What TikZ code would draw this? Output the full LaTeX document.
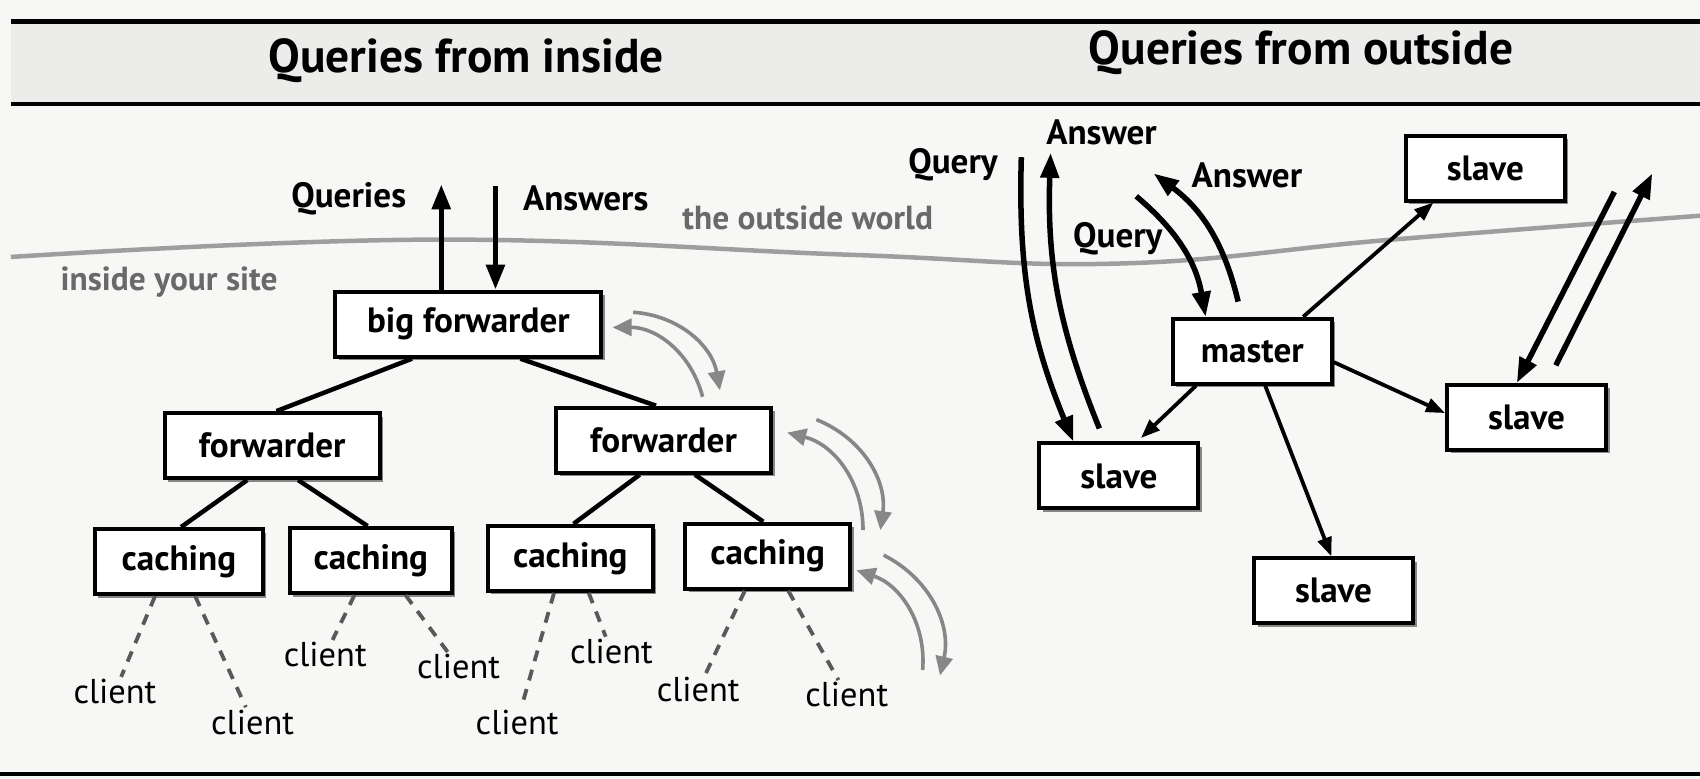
\documentclass[tikz,border=0pt]{standalone}
\usepackage{fontspec}
\setmainfont{PT Sans}
\usetikzlibrary{arrows.meta,calc,shadows}

\definecolor{paper}{RGB}{247,247,245}
\definecolor{band}{RGB}{236,236,234}
\definecolor{horizon}{RGB}{158,158,158}
\definecolor{arcgray}{RGB}{135,135,135}
\definecolor{labelgray}{RGB}{105,105,105}

\tikzset{
  box/.style={draw, line width=0.4mm, fill=white, minimum height=6.5mm,
    inner sep=0pt, font=\fontsize{10}{12}\selectfont\bfseries,
    drop shadow={shadow xshift=0.35mm, shadow yshift=-0.35mm,
      fill=black, opacity=0.45}},
  treeline/.style={line width=0.45mm},
  clientline/.style={line width=0.38mm, black!65,
    dash pattern=on 1.1mm off 0.9mm},
  client/.style={inner sep=0.5pt, font=\fontsize{9.8}{11}\selectfont},
  flowarrow/.style={line width=0.55mm, -{Triangle[length=2.5mm, width=1.8mm]}},
  pusharrow/.style={line width=0.38mm, -{Triangle[length=1.9mm, width=1.4mm]}},
  hoparrow/.style={line width=0.36mm, arcgray,
    -{Triangle[length=1.9mm, width=1.7mm]}},
  lbl/.style={font=\fontsize{10}{12}\selectfont\bfseries},
  sidelbl/.style={font=\fontsize{9.5}{11}\selectfont\bfseries, labelgray},
  title/.style={font=\fontsize{13.5}{16}\selectfont\bfseries}
}

\begin{document}
\begin{tikzpicture}[x=0.10842mm, y=-0.10842mm]

\fill[paper] (0,0) rectangle (1568,717.6);
\useasboundingbox (0,0) rectangle (1568,717.6);

% header band
\fill[band] (10,20) rectangle (1568,96);
\draw[line width=0.55mm] (10,20) -- (1568,20);
\draw[line width=0.4mm] (10,96) -- (1568,96);
\draw[line width=0.4mm] (0,714) -- (1568,714);
\node[title] (tin) at (430,56) {Queries from inside};
\node[title] (tout) at (1200,49) {Queries from outside};

% the horizon
\draw[horizon, line width=0.45mm] plot[smooth, tension=0.7] coordinates
  {(10,237) (400,221) (784,235) (1034,243) (1284,221) (1568,199)};
\node[sidelbl] (inside) at (156,260) {inside your site};
\node[sidelbl] (world) at (745,201) {the outside world};

%% queries from inside
\node[box, minimum width=26.6mm] (bigf) at (432,299) {big forwarder};
\node[box, minimum width=21.5mm] (fwdl) at (251,411) {forwarder};
\node[box, minimum width=21.5mm] (fwdr) at (612,406) {forwarder};
\node[box, minimum width=16.8mm] (cach1) at (165,518) {caching};
\node[box, minimum width=16.2mm] (cach2) at (342,517) {caching};
\node[box, minimum width=16.5mm] (cach3) at (526,515) {caching};
\node[box, minimum width=16.5mm] (cach4) at (708,513) {caching};

\begin{scope}[treeline]
  \draw ($(bigf.south)+(-52,0)$) -- ($(fwdl.north)+(4,0)$);
  \draw ($(bigf.south)+(48,0)$) -- ($(fwdr.north)+(-7,0)$);
  \draw ($(fwdl.south)+(-23,0)$) -- ($(cach1.north)+(2,0)$);
  \draw ($(fwdl.south)+(24,0)$) -- ($(cach2.north)+(-3,0)$);
  \draw ($(fwdr.south)+(-22,0)$) -- ($(cach3.north)+(3,0)$);
  \draw ($(fwdr.south)+(29,0)$) -- ($(cach4.north)+(-4,0)$);
\end{scope}

\node[client] (cl1) at (106,638) {client};
\node[client] (cl2) at (233,666) {client};
\node[client] (cl3) at (300,604) {client};
\node[client] (cl4) at (423,615) {client};
\node[client] (cl5) at (477,666) {client};
\node[client] (cl6) at (564,601) {client};
\node[client] (cl7) at (644,636) {client};
\node[client] (cl8) at (781,641) {client};

\begin{scope}[clientline]
  \draw ($(cach1.south)+(-22,0)$) -- (cl1);
  \draw ($(cach1.south)+(15,0)$) -- (cl2);
  \draw ($(cach2.south)+(-15,0)$) -- (cl3);
  \draw ($(cach2.south)+(32,0)$) -- (cl4);
  \draw ($(cach3.south)+(-15,0)$) -- (cl5);
  \draw ($(cach3.south)+(17,0)$) -- (cl6);
  \draw ($(cach4.south)+(-21,0)$) -- (cl7);
  \draw ($(cach4.south)+(19,0)$) -- (cl8);
\end{scope}

\coordinate (qtip) at (407,170);
\coordinate (atail) at (457,172);
\draw[flowarrow] ($(bigf.north)+(-25,0)$) -- (qtip);
\draw[flowarrow] (atail) -- ($(bigf.north)+(25,0)$);
\node[lbl, anchor=east] (queries) at (386,183) {Queries};
\node[lbl, anchor=west] (answers) at (471,183) {Answers};

% gray hops between the levels
\coordinate (h1a) at (648,366); \coordinate (h1b) at (565,302);
\coordinate (h1c) at (584,288); \coordinate (h1d) at (664,360);
\coordinate (h2a) at (796,489); \coordinate (h2b) at (726,399);
\coordinate (h2c) at (753,387); \coordinate (h2d) at (812,489);
\coordinate (h3a) at (851,618); \coordinate (h3b) at (790,526);
\coordinate (h3c) at (815,512); \coordinate (h3d) at (867,623);
\begin{scope}[hoparrow]
  \draw (h1a) to[bend right=38] (h1b);
  \draw (h1c) to[bend left=38] (h1d);
  \draw (h2a) to[bend right=38] (h2b);
  \draw (h2c) to[bend left=38] (h2d);
  \draw (h3a) to[bend right=38] (h3b);
  \draw (h3c) to[bend left=38] (h3d);
\end{scope}

%% queries from outside
\node[box, minimum width=15.9mm] (master) at (1155,324) {master};
\node[box, minimum width=15.9mm] (slvtop) at (1370,155) {slave};
\node[box, minimum width=15.9mm] (slvright) at (1408,385) {slave};
\node[box, minimum width=15.9mm] (slvleft) at (1032,439) {slave};
\node[box, minimum width=15.9mm] (slvbot) at (1230,545) {slave};

\begin{scope}[pusharrow]
  \draw ($(master.north)+(47,0)$) -- ($(slvtop.south)+(-48,0)$);
  \draw ($(master.east)+(0,10)$) -- ($(slvright.west)+(0,-4)$);
  \draw[shorten >=0.5mm] ($(master.south)+(-52,0)$) -- ($(slvleft.north)+(17,0)$);
  \draw ($(master.south)+(12,0)$) -- ($(slvbot.north)+(-2,0)$);
\end{scope}

\coordinate (q1tail) at (942,145);
\coordinate (a1tip) at (969,141);
\coordinate (q2tail) at (1048,181);
\coordinate (a2tip) at (1064,160);
\coordinate (q3tail) at (1489,177);
\coordinate (a3tail) at (1435,337);
\coordinate (a3tip) at (1524,160);
\begin{scope}[flowarrow]
  \draw (q1tail) to[bend right=12] ($(slvleft.north)+(-42,0)$);
  \draw ($(slvleft.north)+(-18,-12)$) to[bend left=12] (a1tip);
  \draw (q2tail) to[bend left=20] ($(master.north)+(-43,0)$);
  \draw ($(master.north)+(-13,-14)$) to[bend right=20] (a2tip);
  \draw (q3tail) -- ($(slvright.north)+(-9,0)$);
  \draw (a3tail) -- (a3tip);
\end{scope}

\node[lbl] (query1) at (879,152) {Query};
\node[lbl] (answer1) at (1016,122) {Answer};
\node[lbl] (answer2) at (1150,162) {Answer};
\node[lbl] (query2) at (1031,220) {Query};

\end{tikzpicture}
\end{document}
